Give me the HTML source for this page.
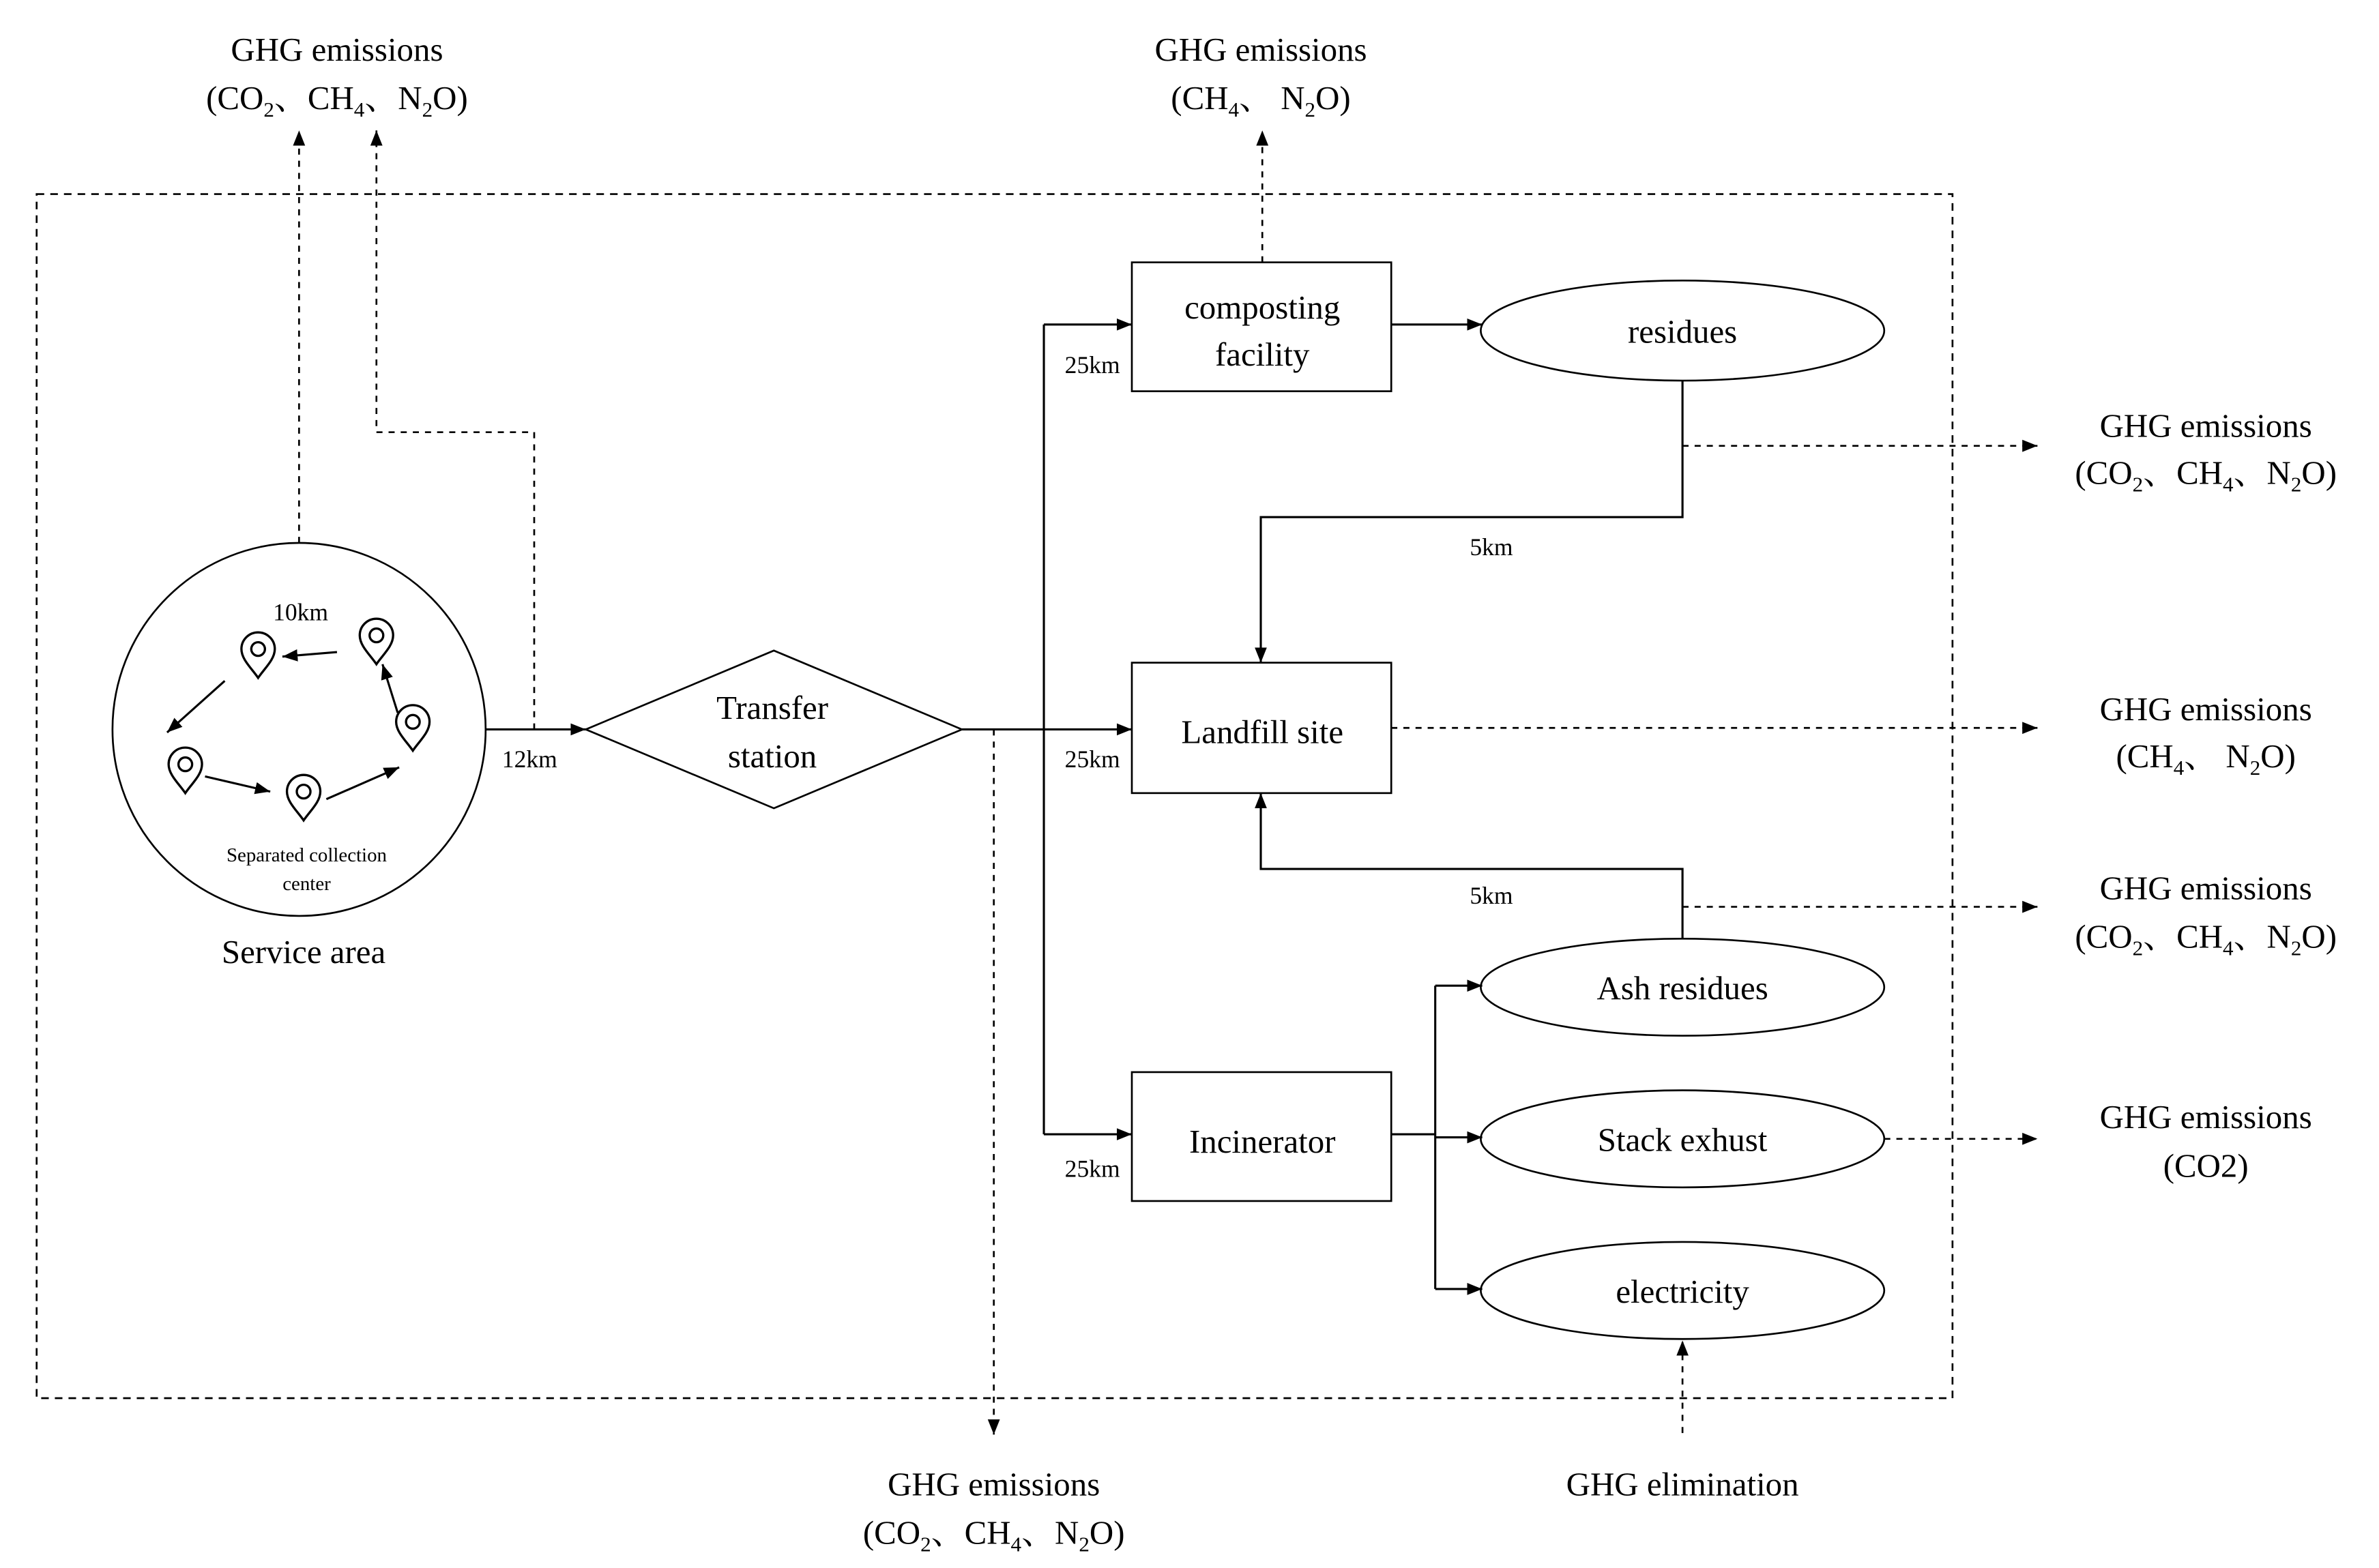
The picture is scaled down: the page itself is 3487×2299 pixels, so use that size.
<!DOCTYPE html>
<html><head><meta charset="utf-8"><style>
html,body{margin:0;padding:0;background:#fff;}
svg{display:block;}
text,tspan{font-family:"Liberation Serif","Times New Roman","Noto Serif CJK SC",serif;fill:#000;}
</style></head><body>
<svg width="3487" height="2299" viewBox="0 0 1568 1034" xmlns="http://www.w3.org/2000/svg">
<defs>
<marker id="a" viewBox="0 0 10 10" refX="10" refY="5" markerWidth="10" markerHeight="10" markerUnits="userSpaceOnUse" orient="auto"><path d="M0,1 L10,5 L0,9 z" fill="#000"/></marker>
<g id="pin"><path d="M0,14 C-4,8 -11,2 -11,-5 A11,11 0 1 1 11,-5 C11,2 4,8 0,14 Z" fill="#fff" stroke="#000" stroke-width="1.5"/><circle cx="0" cy="-5" r="4.5" fill="none" stroke="#000" stroke-width="1.5"/></g>
</defs>
<g fill="none" stroke="#000" stroke-width="1.2">
<rect x="24" y="128" width="1263" height="794" stroke-dasharray="5,4"/>
<ellipse cx="197" cy="481" rx="123" ry="123"/>
<polygon points="386,481 510,429 634,481 510,533"/>
<rect x="746" y="173" width="171" height="85"/>
<rect x="746" y="437" width="171" height="86"/>
<rect x="746" y="707" width="171" height="85"/>
<ellipse cx="1109" cy="218" rx="133" ry="33"/>
<ellipse cx="1109" cy="651" rx="133" ry="32"/>
<ellipse cx="1109" cy="751" rx="133" ry="32"/>
<ellipse cx="1109" cy="851" rx="133" ry="32"/>
</g>
<g fill="none" stroke="#000" stroke-width="1.4">
<line x1="320" y1="481" x2="386" y2="481" marker-end="url(#a)"/>
<line x1="634" y1="481" x2="746" y2="481" marker-end="url(#a)"/>
<line x1="688" y1="214" x2="688" y2="748"/>
<line x1="688" y1="214" x2="746" y2="214" marker-end="url(#a)"/>
<line x1="688" y1="748" x2="746" y2="748" marker-end="url(#a)"/>
<line x1="917" y1="214" x2="977" y2="214" marker-end="url(#a)"/>
<polyline points="1109,251 1109,341 831,341 831,437" marker-end="url(#a)"/>
<polyline points="1109,619 1109,573 831,573 831,523" marker-end="url(#a)"/>
<line x1="917" y1="748" x2="946" y2="748"/>
<line x1="946" y1="650" x2="946" y2="850"/>
<line x1="946" y1="650" x2="977" y2="650" marker-end="url(#a)"/>
<line x1="946" y1="750" x2="977" y2="750" marker-end="url(#a)"/>
<line x1="946" y1="850" x2="977" y2="850" marker-end="url(#a)"/>
<line x1="222" y1="430" x2="186" y2="433" marker-end="url(#a)"/>
<line x1="262" y1="470" x2="252" y2="438" marker-end="url(#a)"/>
<line x1="148" y1="449" x2="110" y2="483" marker-end="url(#a)"/>
<line x1="135" y1="512" x2="178" y2="522" marker-end="url(#a)"/>
<line x1="215" y1="527" x2="263" y2="506" marker-end="url(#a)"/>
</g>
<g fill="none" stroke="#000" stroke-width="1.2" stroke-dasharray="4,4">
<line x1="197" y1="358" x2="197" y2="86" marker-end="url(#a)"/>
<polyline points="352,481 352,285 248,285 248,86" marker-end="url(#a)"/>
<line x1="832" y1="173" x2="832" y2="86" marker-end="url(#a)"/>
<line x1="655" y1="481" x2="655" y2="946" marker-end="url(#a)"/>
<line x1="1109" y1="294" x2="1343" y2="294" marker-end="url(#a)"/>
<line x1="917" y1="480" x2="1343" y2="480" marker-end="url(#a)"/>
<line x1="1109" y1="598" x2="1343" y2="598" marker-end="url(#a)"/>
<line x1="1242" y1="751" x2="1343" y2="751" marker-end="url(#a)"/>
<line x1="1109" y1="945" x2="1109" y2="884" marker-end="url(#a)"/>
</g>
<use href="#pin" x="170" y="433"/>
<use href="#pin" x="248" y="424"/>
<use href="#pin" x="272" y="481"/>
<use href="#pin" x="122" y="509"/>
<use href="#pin" x="200" y="527"/>
<g font-size="22" text-anchor="middle" font-family="'Liberation Serif','Times New Roman',serif">
<text x="222" y="40">GHG emissions</text>
<text x="222" y="72">(CO<tspan font-size="14" dy="5">2</tspan><tspan dy="-5">、CH</tspan><tspan font-size="14" dy="5">4</tspan><tspan dy="-5">、N</tspan><tspan font-size="14" dy="5">2</tspan><tspan dy="-5">O)</tspan></text>
<text x="831" y="40">GHG emissions</text>
<text x="831" y="72">(CH<tspan font-size="14" dy="5">4</tspan><tspan dy="-5">、 N</tspan><tspan font-size="14" dy="5">2</tspan><tspan dy="-5">O)</tspan></text>
<text x="1454" y="288">GHG emissions</text>
<text x="1454" y="319">(CO<tspan font-size="14" dy="5">2</tspan><tspan dy="-5">、CH</tspan><tspan font-size="14" dy="5">4</tspan><tspan dy="-5">、N</tspan><tspan font-size="14" dy="5">2</tspan><tspan dy="-5">O)</tspan></text>
<text x="1454" y="475">GHG emissions</text>
<text x="1454" y="506">(CH<tspan font-size="14" dy="5">4</tspan><tspan dy="-5">、 N</tspan><tspan font-size="14" dy="5">2</tspan><tspan dy="-5">O)</tspan></text>
<text x="1454" y="593">GHG emissions</text>
<text x="1454" y="625">(CO<tspan font-size="14" dy="5">2</tspan><tspan dy="-5">、CH</tspan><tspan font-size="14" dy="5">4</tspan><tspan dy="-5">、N</tspan><tspan font-size="14" dy="5">2</tspan><tspan dy="-5">O)</tspan></text>
<text x="1454" y="744">GHG emissions</text>
<text x="1454" y="776">(CO2)</text>
<text x="655" y="986">GHG emissions</text>
<text x="655" y="1018">(CO<tspan font-size="14" dy="5">2</tspan><tspan dy="-5">、CH</tspan><tspan font-size="14" dy="5">4</tspan><tspan dy="-5">、N</tspan><tspan font-size="14" dy="5">2</tspan><tspan dy="-5">O)</tspan></text>
<text x="1109" y="986">GHG elimination</text>
<text x="509" y="474">Transfer</text>
<text x="509" y="506">station</text>
<text x="832" y="210">composting</text>
<text x="832" y="241">facility</text>
<text x="832" y="490">Landfill site</text>
<text x="832" y="760">Incinerator</text>
<text x="1109" y="226">residues</text>
<text x="1109" y="659">Ash residues</text>
<text x="1109" y="759">Stack exhust</text>
<text x="1109" y="859">electricity</text>
<text x="200" y="635">Service area</text>
</g>
<g font-size="16" text-anchor="middle" font-family="'Liberation Serif','Times New Roman',serif">
<text x="349" y="506">12km</text>
<text x="198" y="409">10km</text>
<text x="720" y="246">25km</text>
<text x="720" y="506">25km</text>
<text x="720" y="776">25km</text>
<text x="983" y="366">5km</text>
<text x="983" y="596">5km</text>
</g>
<g font-size="13" text-anchor="middle" font-family="'Liberation Serif','Times New Roman',serif">
<text x="202" y="568">Separated collection</text>
<text x="202" y="587">center</text>
</g>
</svg>
</body></html>
